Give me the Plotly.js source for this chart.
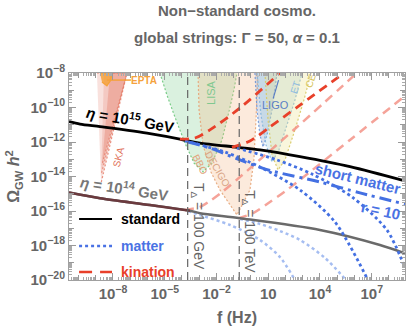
<!DOCTYPE html>
<html><head><meta charset="utf-8">
<script src="https://cdn.plot.ly/plotly-3.0.1.min.js"></script>
<style>html,body{margin:0;padding:0;background:#fff}#chart{width:411px;height:334px}</style>
</head><body><div id="chart"></div>
<script>
// All values: x = log10(f / Hz), y = log10(Omega_GW h^2).

// standard cosmology
const std15_x = [-10.55, -9.91, -8.75, -5.86, -4.12, -3.65, -2.96, -0.64, 0.52, 2.84, 5.74, 8.93];
const std15_y = [-10.82, -10.96, -11.11, -11.51, -11.83, -11.94, -12.06, -12.32, -12.46, -12.85, -13.43, -14.26];
const std14_x = [-10.55, -8.75, -5.86, -3.54, -2.96, -0.64, 4.0, 7.48, 8.93];
const std14_y = [-14.93, -15.26, -15.65, -15.98, -16.13, -16.42, -17.10, -17.97, -18.45];

// kination, eta = 1e15 (T = 100 GeV, 100 TeV)
const kin15a_x = [-4.12, -3.25, -2.38, -0.64, 1.68];
const kin15a_y = [-11.83, -11.77, -11.30, -10.03, -8.0];
const kin15b_x = [-1.10, -0.06, 1.10, 2.84, 5.39];
const kin15b_y = [-12.31, -11.94, -11.13, -9.86, -8.0];
// kination, eta = 1e14
const kin14a_x = [-3.83, -2.96, -2.38, -1.74, 2.67, 6.14];
const kin14a_y = [-15.94, -15.77, -15.42, -14.96, -11.13, -8.0];
const kin14b_x = [-0.75, 0.12, 1.10, 2.09, 5.74, 8.93];
const kin14b_y = [-16.43, -16.12, -15.48, -14.78, -11.88, -9.33];

// matter, eta = 1e15
const mat15a_x = [-3.83, -1.51, 0.52, 2.84, 4.87, 6.78];
const mat15a_y = [-11.94, -12.58, -13.45, -14.78, -16.64, -20.0];
const mat15b_x = [-0.81, 1.51, 3.54, 5.86, 7.88, 8.93];
const mat15b_y = [-12.35, -13.04, -13.86, -15.19, -17.10, -19.30];
// short matter r = 10
const short_x = [-3.65, -2.38, -0.64, 1.10, 4.0, 6.32, 8.93];
const short_y = [-12.00, -12.35, -13.04, -13.65, -14.32, -14.95, -15.60];
// matter, eta = 1e14
const mat14a_x = [-3.65, -2.96, -1.22, 0.52, 1.68, 2.55];
const mat14a_y = [-16.00, -16.23, -16.81, -17.68, -18.67, -20.0];
const mat14b_x = [-0.64, 0.52, 1.68, 2.84, 4.29, 5.51];
const mat14b_y = [-16.46, -16.75, -17.16, -17.68, -18.72, -20.0];

// T_Delta marker frequencies (100 GeV, 100 TeV)
const tDelta_x = [-3.67, -0.68];

// detector regions
const skaA_x = [-8.93, -7.19, -8.69], skaA_y = [-8, -8, -14.38];
const skaB_x = [-8.52, -7.19, -8.69], skaB_y = [-8, -8, -13.91];
const skaC_x = [-8.17, -7.19, -8.64], skaC_y = [-8, -8, -13.33];
const epta_x = [-8.75, -8.06, -8.12, -8.35, -8.64], epta_y = [-8, -8, -8.41, -8.75, -8.52];
const lisa_x = [-5.28, -4.87, -4.41, -3.83, -3.30, -2.78, -2.26, -1.68, -1.28, -0.99, -0.81];
const lisa_y = [-8, -9.28, -10.55, -12.06, -13.22, -13.74, -13.22, -11.88, -10.26, -8.99, -8];
const decigo_x = [-3.07, -3.01, -2.78, -2.32, -1.80, -0.81, -0.06, 0.17, 0.29, 0.41];
const decigo_y = [-8, -10.14, -12.17, -13.74, -14.78, -16.23, -14.78, -13.04, -10.72, -8];
const ligo_x = [0.23, 0.35, 0.52, 0.70, 0.93, 1.22, 1.51];
const ligo_y = [-8, -10.14, -11.59, -12.29, -11.59, -10.14, -8];
const et_x = [0.35, 0.58, 0.87, 1.22, 1.62, 2.09, 2.55, 2.96];
const et_y = [-8, -10.43, -12.17, -13.16, -12.46, -11.01, -9.57, -8];
const ce_x = [0.81, 0.99, 1.22, 1.57, 1.97, 2.55, 3.07, 3.48];
const ce_y = [-8, -10.72, -12.75, -13.62, -13.04, -11.30, -9.57, -8];
const eptaLine_x = [-8.35, -6.96], eptaLine_y = [-8.41, -8.41];
const ligoLine_x = [1.29, 1.60], ligoLine_y = [-9.47, -8.41];

// tick labels
const xLabelDecades = [-8, -5, -2, 1, 4, 7];
const yLabelDecades = [-8, -10, -12, -14, -16, -18, -20];

// legend entries
const legendNames = ['standard', 'matter', 'kination'];
const legendColors = ['#000000', '#4a72e4', '#e8402a'];
const legendDash = ['solid', '3px,3px', '13px,8px'];

const FONT = 'Liberation Sans, Arial, Helvetica, sans-serif';
const RED = '#e8402a', PINK = 'rgba(242,140,128,0.8)', BLUE = '#4470e2', LBLUE = 'rgba(160,185,240,0.95)';

function region(x, y, fill, line, dash) {
  return {x, y, type:'scatter', mode:'lines', fill:'toself', fillcolor:fill,
    line:{color:line, width:1.2, dash:dash||'2px,2px'}, showlegend:false, hoverinfo:'skip'};
}
function curve(x, y, color, width, dash, extra) {
  return Object.assign({x, y, type:'scatter', mode:'lines',
    line:{color, width, dash, shape:'spline', smoothing:0.8}, showlegend:false, hoverinfo:'skip'}, extra||{});
}

// maroon-tinted low-frequency part of the eta=1e14 curve (overlapping curves)
const lowIdx = std14_x.map((v,i)=>i).filter(i => std14_x[i] <= -3.54);
const std14low_x = lowIdx.map(i=>std14_x[i]), std14low_y = lowIdx.map(i=>std14_y[i]);

const xRange = [-10.55, 8.93], yRange = [-20, -8];

const data = [
  region(skaA_x, skaA_y, 'rgba(228,120,100,0.22)', 'rgba(228,120,100,0.8)'),
  region(skaB_x, skaB_y, 'rgba(228,120,100,0.22)', 'rgba(228,120,100,0.7)'),
  region(skaC_x, skaC_y, 'rgba(225,110,85,0.3)', 'rgba(228,120,100,0.7)'),
  region(lisa_x, lisa_y, 'rgba(140,210,155,0.32)', 'rgba(110,200,125,0.9)'),
  region(decigo_x, decigo_y, 'rgba(245,185,140,0.3)', 'rgba(230,165,120,0.9)'),
  region(ligo_x, ligo_y, 'rgba(150,165,200,0.35)', 'rgba(110,150,215,0.9)'),
  region(et_x, et_y, 'rgba(150,200,215,0.28)', 'rgba(130,180,220,0.9)'),
  region(ce_x, ce_y, 'rgba(235,225,140,0.3)', 'rgba(215,200,100,0.9)'),
  region(epta_x, epta_y, 'rgba(245,160,50,0.8)', 'rgba(245,160,50,0.9)', 'solid'),
  {x:eptaLine_x, y:eptaLine_y, type:'scatter', mode:'lines', line:{color:'#f5a23c', width:1.5}, showlegend:false, hoverinfo:'skip'},
  {x:ligoLine_x, y:ligoLine_y, type:'scatter', mode:'lines', line:{color:'#5a7ec4', width:1.2}, showlegend:false, hoverinfo:'skip'},

  curve(mat14a_x, mat14a_y, LBLUE, 2.5, '3px,3px'),
  curve(mat14b_x, mat14b_y, LBLUE, 2.5, '3px,3px'),
  curve(kin14a_x, kin14a_y, PINK, 2.5, '9px,6px'),
  curve(kin14b_x, kin14b_y, PINK, 2.5, '9px,6px'),
  curve(std14_x, std14_y, '#6a6a6a', 2.5, 'solid'),
  curve(std14low_x, std14low_y, '#6b3a3e', 2.5, 'solid'),

  curve(std15_x, std15_y, '#000000', 2.8, 'solid', {name:'standard'}),
  curve(mat15a_x, mat15a_y, BLUE, 2.8, '3px,3px', {name:'matter'}),
  curve(mat15b_x, mat15b_y, BLUE, 2.8, '3px,3px'),
  curve(short_x, short_y, BLUE, 3, '12px,5px,3px,5px', {name:'short matter'}),
  curve(kin15a_x, kin15a_y, RED, 2.8, '9px,6px', {name:'kination'}),
  curve(kin15b_x, kin15b_y, RED, 2.8, '9px,6px'),
  // carrier for the overlay axes that draw the unlabeled decade ticks
  {x:[xRange[0]], y:[yRange[0]], xaxis:'x2', yaxis:'y2', type:'scatter', mode:'markers',
   marker:{opacity:0, size:1}, showlegend:false, hoverinfo:'skip'}
];

function decadeLabel(n) {
  if (n === 0) return '1';
  if (n === 1) return '10';
  return '10<sup>' + (n < 0 ? '\u2212' + (-n) : n) + '</sup>';
}
const xAllDec = [], yAllDec = [];
for (let n = -10; n <= 8; n++) xAllDec.push(n);
for (let n = -20; n <= -8; n++) yAllDec.push(n);
const xMin = [], yMin = [];
for (let n = -11; n <= 9; n++) for (let k = 2; k <= 9; k++) xMin.push(n + Math.log10(k));
for (let n = -21; n <= -8; n++) for (let k = 2; k <= 9; k++) yMin.push(n + Math.log10(k));

const tickFont = {family:FONT, size:15, color:'#666', weight:'bold'};
const axisCommon = {
  showgrid:false, zeroline:false, showline:true, linecolor:'#a0a0a0', linewidth:1,
  mirror:'ticks', ticks:'inside', ticklen:7, tickcolor:'#999', tickwidth:1,
  tickmode:'array', tickfont:tickFont
};
const minorCommon = {tickmode:'array', ticks:'inside', ticklen:3, tickcolor:'#aaa', tickwidth:1, showgrid:false};
const overlayCommon = {showgrid:false, zeroline:false, showline:false, mirror:'ticks', ticks:'inside',
  ticklen:5, tickcolor:'#999', tickwidth:1, tickmode:'array', showticklabels:false};

const gray = '#666';
const annotations = [
  {xref:'paper', yref:'paper', x:0.5, y:1.1715, yanchor:'middle', showarrow:false,
   text:'global strings: \u0393 = 50, <i>\u03b1</i> = 0.1', font:{family:FONT, size:15, color:gray, weight:'bold'}},
  {x:-7.01, y:-10.63, showarrow:false, textangle:10, text:'<i>\u03b7</i> = 10<sup>15</sup> GeV',
   font:{family:FONT, size:15, color:'#000', weight:'bold'}},
  {x:-7.33, y:-14.62, showarrow:false, textangle:9, text:'<i>\u03b7</i> = 10<sup>14</sup> GeV',
   font:{family:FONT, size:15, color:'#777', weight:'bold'}},
  {x:-3.07, y:-16.87, showarrow:false, textangle:90, text:'T<sub>\u0394</sub> = 100 GeV',
   font:{family:FONT, size:14, color:'#666'}},
  {x:-0.12, y:-17.22, showarrow:false, textangle:90, text:'T<sub>\u0394</sub> = 100 TeV',
   font:{family:FONT, size:14, color:'#666'}},
  {x:6.20, y:-14.10, showarrow:false, textangle:14, text:'short matter',
   font:{family:FONT, size:15, color:'#4a72e4', weight:'bold'}},
  {x:7.54, y:-15.95, showarrow:false, textangle:12, text:'r = 10',
   font:{family:FONT, size:15, color:'#4a72e4', weight:'bold'}},
  {x:-6.20, y:-8.41, showarrow:false, text:'EPTA', font:{family:FONT, size:10, color:'#f5a23c', weight:'bold'}},
  {x:-7.71, y:-12.87, showarrow:false, textangle:-76, text:'SKA', font:{family:FONT, size:10, color:'#e07058'}},
  {x:-2.32, y:-9.10, showarrow:false, textangle:-90, text:'LISA', font:{family:FONT, size:11, color:'#80c890'}},
  {x:1.42, y:-9.86, showarrow:false, text:'LIGO', font:{family:FONT, size:11, color:'#5a7ec4'}},
  {x:2.61, y:-8.81, showarrow:false, textangle:-72, text:'ET', font:{family:FONT, size:10, color:'#8fbce0'}},
  {x:3.48, y:-8.46, showarrow:false, textangle:-72, text:'CE', font:{family:FONT, size:10, color:'#d6c45a'}},
  {x:-2.96, y:-13.33, showarrow:false, textangle:62, text:'BBO', font:{family:FONT, size:10, color:'#e3a27a'}},
  {x:-1.91, y:-13.57, showarrow:false, textangle:60, text:'DECIGO', font:{family:FONT, size:10, color:'#d9a585'}}
];

const shapes = tDelta_x.map(v => ({type:'line', xref:'x', yref:'y', x0:v, x1:v, y0:yRange[0], y1:yRange[1],
  line:{color:'#666', width:1.2, dash:'8px,5px'}, layer:'above'}));

// legend (drawn in paper coordinates at the lower-left of the plot)
const legendRowY = [0.295, 0.164, 0.039];
legendNames.forEach((nm, i) => {
  shapes.push({type:'line', xref:'paper', yref:'paper', x0:0.030, x1:0.128, y0:legendRowY[i], y1:legendRowY[i],
    line:{color:legendColors[i], width:i === 0 ? 2 : 2.5, dash:legendDash[i]}, layer:'above'});
  annotations.push({xref:'paper', yref:'paper', x:0.149, y:legendRowY[i], xanchor:'left', yanchor:'middle',
    showarrow:false, text:nm, font:{family:FONT, size:14, color:legendColors[i], weight:'bold'}});
});

const layout = {
  width:411, height:334, margin:{l:69, r:6, t:73, b:54},
  paper_bgcolor:'#fff', plot_bgcolor:'#fff', font:{family:FONT}, showlegend:false,
  title:{text:'Non\u2212standard cosmo.', font:{family:FONT, size:15, color:gray, weight:'bold'},
    x:0.5, xref:'paper', xanchor:'center', y:0.967, yref:'container', yanchor:'middle'},
  xaxis:Object.assign({}, axisCommon, {range:xRange, tickvals:xLabelDecades, ticktext:xLabelDecades.map(decadeLabel),
    minor:Object.assign({}, minorCommon, {tickvals:xMin}),
    title:{text:'f (Hz)', font:{family:FONT, size:16, color:gray, weight:'bold'}, standoff:10}}),
  yaxis:Object.assign({}, axisCommon, {range:yRange, tickvals:yLabelDecades, ticktext:yLabelDecades.map(decadeLabel),
    minor:Object.assign({}, minorCommon, {tickvals:yMin}),
    title:{text:'\u03a9<sub>GW</sub> <i>h</i><sup>2</sup>', font:{family:FONT, size:16, color:gray, weight:'bold'}, standoff:6}}),
  xaxis2:Object.assign({}, overlayCommon, {overlaying:'x', anchor:'y2', side:'bottom', range:xRange, tickvals:xAllDec}),
  yaxis2:Object.assign({}, overlayCommon, {overlaying:'y', anchor:'x2', side:'left', range:yRange, tickvals:yAllDec}),
  annotations, shapes
};

Plotly.newPlot('chart', data, layout, {displayModeBar:false, staticPlot:true});
</script>
</body></html>
